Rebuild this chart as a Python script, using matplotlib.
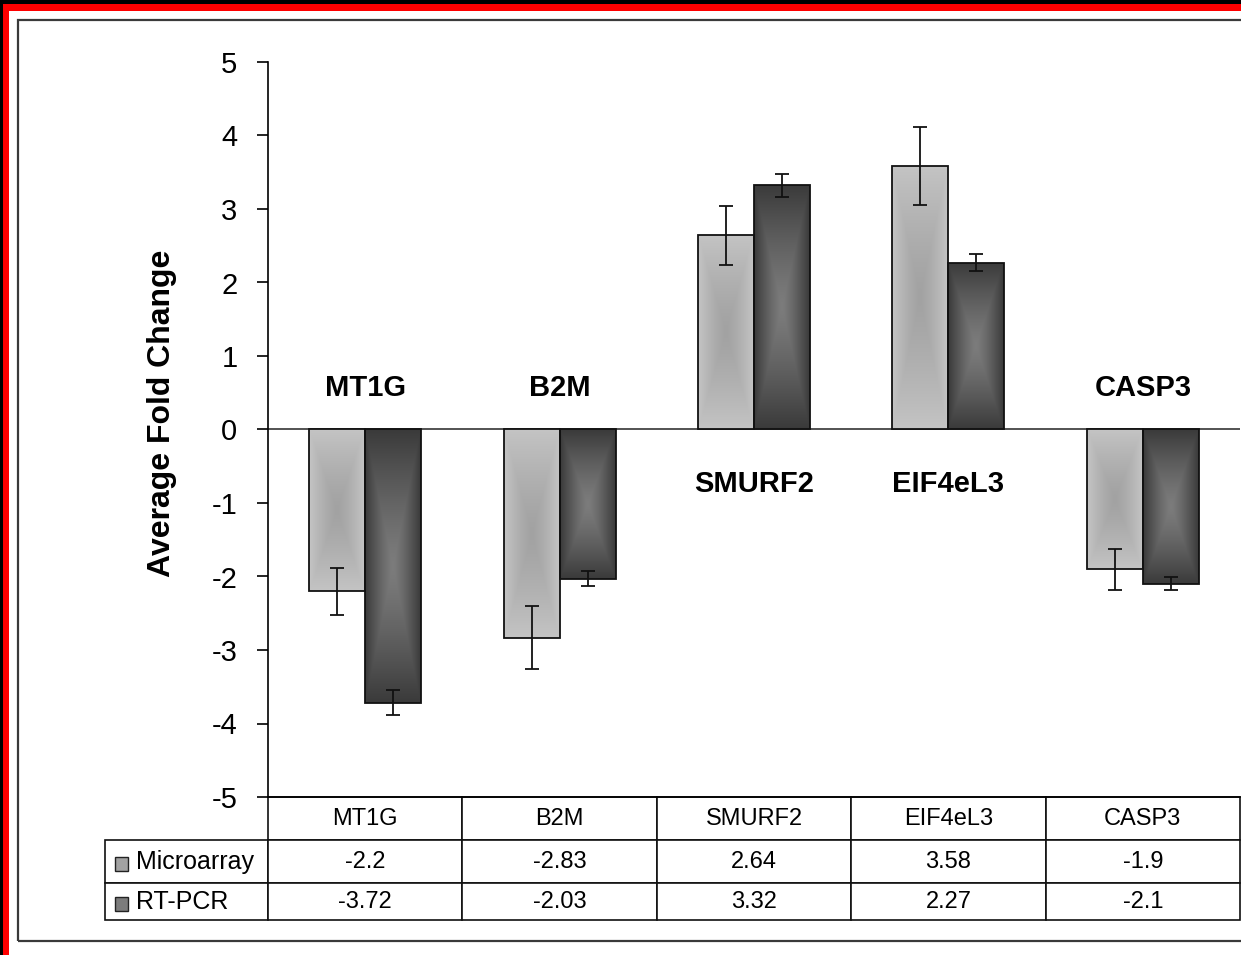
import numpy as np
import matplotlib
matplotlib.use("Agg")
import matplotlib.pyplot as plt
from matplotlib.patches import Rectangle

plt.rcParams['font.family'] = ['Liberation Sans', 'DejaVu Sans']
plt.rcParams['axes.unicode_minus'] = False

genes = ['MT1G', 'B2M', 'SMURF2', 'EIF4eL3', 'CASP3']
series = ['Microarray', 'RT-PCR']
microarray = [-2.2, -2.83, 2.64, 3.58, -1.9]
rt_pcr = [-3.72, -2.03, 3.32, 2.27, -2.1]
microarray_err = [0.32, 0.43, 0.40, 0.53, 0.28]
rt_pcr_err = [0.17, 0.10, 0.16, 0.12, 0.09]
microarray_txt = ['-2.2', '-2.83', '2.64', '3.58', '-1.9']
rt_pcr_txt = ['-3.72', '-2.03', '3.32', '2.27', '-2.1']

W, H = 1241, 955
fig = plt.figure(figsize=(W / 100, H / 100), dpi=100, facecolor='black')


def px(x0, y0, x1, y1):
    # pixel box (top-left origin) -> figure fraction rect
    return (x0 / W, 1 - y1 / H, (x1 - x0) / W, (y1 - y0) / H)


def rect_px(x0, y0, x1, y1, **kw):
    l, b, w, h = px(x0, y0, x1, y1)
    fig.patches.append(Rectangle((l, b), w, h, transform=fig.transFigure, **kw))


# frame: black strip, red border, white inside, thin dark box
rect_px(3, 4, W + 5, H + 5, facecolor='#ff0000', edgecolor='none', zorder=-10)
rect_px(9, 11, W + 5, H + 5, facecolor='white', edgecolor='none', zorder=-9)
rect_px(18, 20, W + 20, 941, facecolor='none', edgecolor='#3a3a3a', linewidth=1.6, zorder=-8)

ax = fig.add_axes(px(268, 62, 1240, 797))
ax.set_facecolor('none')

x = np.arange(len(genes))
w = 0.288


def gradient_fill(patch, center, edge, zorder):
    bx, by = patch.get_x(), patch.get_y()
    bw, bh = patch.get_width(), patch.get_height()
    u = np.linspace(-1, 1, 60)
    v = np.linspace(-1, 1, 200)
    U, V = np.meshgrid(u, v)
    r = np.maximum(np.abs(U), np.abs(V)) ** 1.3
    c0 = np.array(matplotlib.colors.to_rgb(center))
    c1 = np.array(matplotlib.colors.to_rgb(edge))
    img = c0[None, None, :] + (c1 - c0)[None, None, :] * r[:, :, None]
    im = ax.imshow(img, extent=(bx, bx + bw, by, by + bh), aspect='auto',
                   origin='lower', zorder=zorder, interpolation='bilinear')
    im.set_clip_path(patch)


styles = [('#a2a2a2', '#c4c4c4'), ('#7c7c7c', '#3a3a3a')]
for i, (vals, errs) in enumerate([(microarray, microarray_err), (rt_pcr, rt_pcr_err)]):
    pos = x + (i - 0.5) * w
    bars = ax.bar(pos, vals, width=w, facecolor='none', edgecolor='#111111',
                  linewidth=1.3, zorder=3)
    for p in bars:
        gradient_fill(p, styles[i][0], styles[i][1], 2)
    ax.errorbar(pos, vals, yerr=errs, fmt='none', ecolor='#111111',
                elinewidth=1.3, capsize=5, capthick=1.3, zorder=4)
ax.set_xlim(-0.5, 4.5)
ax.set_ylim(-5, 5)

ax.axhline(0, color='#444444', linewidth=1.3, zorder=1)

# gene names inside the plot
for xi, m, r in zip(x, microarray, rt_pcr):
    yy = 0.56 if max(m, r) < 0 else -0.74
    ax.text(xi, yy, genes[xi], ha='center', va='center', fontsize=21,
            fontweight='bold', zorder=5)

ax.set_yticks(range(-5, 6))
ax.tick_params(axis='y', direction='out', length=8, width=1.2, labelsize=21,
               pad=14, colors='black')
ax.set_xticks([])
for s in ['top', 'right']:
    ax.spines[s].set_visible(False)
ax.spines['left'].set_linewidth(1.2)
ax.spines['bottom'].set_linewidth(1.2)

fig.text(162 / W, 1 - 413 / H, 'Average Fold Change', rotation=90, ha='center',
         va='center', fontsize=23, fontweight='bold')

# data table below axis (first column holds the series names)
ax_w, ax_h = 1240 - 268, 797 - 62
cells = [[series[0]] + microarray_txt, [series[1]] + rt_pcr_txt]
tbl = ax.table(cellText=cells, colLabels=[''] + genes, cellLoc='center',
               bbox=[(105 - 268) / ax_w, -(920 - 797) / ax_h,
                     (1240 - 105) / ax_w, (920 - 797) / ax_h])
tbl.auto_set_font_size(False)
row_h = [43, 43, 37]
for (r, c), cell in tbl.get_celld().items():
    cell.set_linewidth(1.2)
    cell.set_edgecolor('#111111')
    cell.set_height(row_h[r])
    cell.set_width(163 if c == 0 else 194.4)
    cell.get_text().set_fontsize(17)
    if c == 0:
        cell.PAD = 31 / 163
        cell.get_text().set_ha('left')
        cell._loc = 'left'
        cell.get_text().set_fontsize(18)
        if r == 0:
            cell.visible_edges = ''

# legend keys in the row label cells
for yk, (center, edge) in zip([857, 897], styles):
    rect_px(115, yk, 128, yk + 14, facecolor=center, edgecolor='#222222', linewidth=1.0, zorder=5)

fig.savefig('out.png', dpi=100, facecolor=fig.get_facecolor())
